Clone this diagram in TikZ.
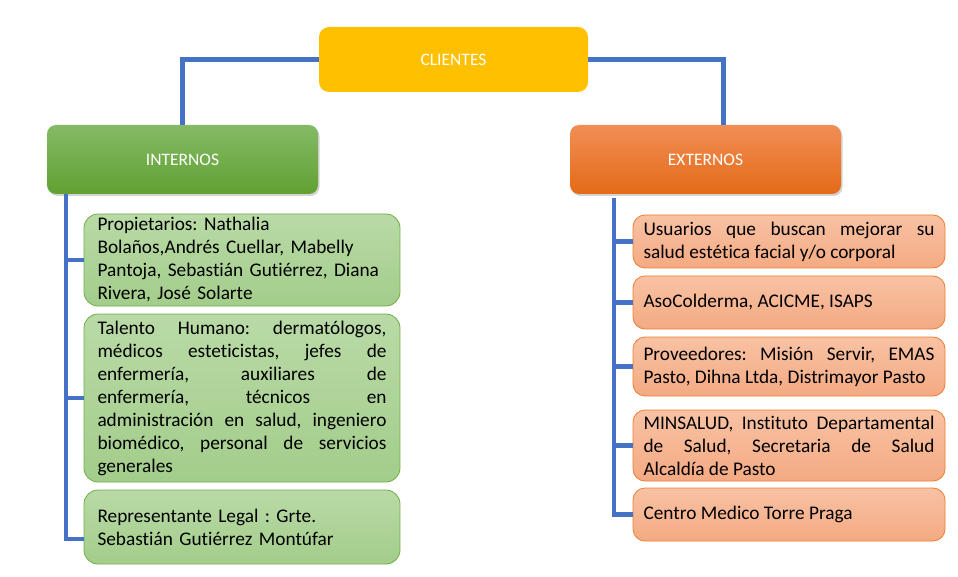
\documentclass[tikz,border=0pt]{standalone}
\usepackage{fontspec}
\setmainfont{Carlito}[Ligatures=NoCommon]
\usepackage{tikz}
\usetikzlibrary{positioning,shadows}
\setlength{\parindent}{0pt}
\frenchspacing
\definecolor{conect}{HTML}{4472C4}
\definecolor{amarillo}{HTML}{FFC000}
\definecolor{verdeA}{HTML}{84BA66}
\definecolor{verdeB}{HTML}{60A132}
\definecolor{naranjaA}{HTML}{F18E55}
\definecolor{naranjaB}{HTML}{E46A17}
\definecolor{verdeC}{HTML}{B9DAA6}
\definecolor{verdeD}{HTML}{A3CD8B}
\definecolor{verdeBorde}{HTML}{70AD47}
\definecolor{naranjaC}{HTML}{F8C2A4}
\definecolor{naranjaD}{HTML}{F4AA82}
\definecolor{naranjaBorde}{HTML}{ED7D31}
\tikzset{
  conector/.style={conect,line width=4.5pt},
  raiz/.style={fill=amarillo,rounded corners=10pt,minimum width=269pt,minimum height=65pt,
    text=white,font=\fontsize{17.5}{20}\selectfont,outer sep=0pt},
  grupo/.style={rounded corners=9pt,minimum width=271pt,minimum height=69pt,
    text=white,font=\fontsize{17.5}{20}\selectfont,outer sep=0pt,
    drop shadow={opacity=0.35,shadow xshift=1.5pt,shadow yshift=-2pt}},
  hojaint/.style={draw=verdeBorde,line width=0.8pt,top color=verdeC,bottom color=verdeD,
    rounded corners=14pt,minimum width=316pt,text width=289pt,align=justify,
    font=\fontsize{19.3}{23}\selectfont,outer sep=0pt},
  hojaext/.style={draw=naranjaBorde,line width=0.8pt,top color=naranjaC,bottom color=naranjaD,
    rounded corners=12pt,minimum width=312pt,text width=291pt,align=justify,
    font=\fontsize{19.3}{23}\selectfont,outer sep=0pt}
}
\tolerance=10000
\hbadness=10000

\begin{document}
\begin{tikzpicture}[x=1pt,y=-1pt]
  \useasboundingbox (0,0) rectangle (958,577);
  \node[raiz] (clientes) at (453.5,59.5) {CLIENTES};
  \node[grupo,top color=verdeA,bottom color=verdeB] (internos) at (182.5,159.5) {INTERNOS};
  \node[grupo,top color=naranjaA,bottom color=naranjaB] (externos) at (705.5,159.5) {EXTERNOS};

  \node[hojaint,minimum height=92pt,anchor=north west,align=left] (prop) at (84,214)
    {Propietarios: Nathalia\\ Bolaños,Andrés Cuellar, Mabelly\\ Pantoja, Sebastián Gutiérrez, Diana\\ Rivera, José Solarte};
  \node[hojaint,minimum height=168pt,below=8pt of prop] (talento)
    {Talento Humano: dermatólogos,\linebreak médicos esteticistas, jefes de\linebreak enfermería, auxiliares de\linebreak enfermería, técnicos en\linebreak administración en salud, ingeniero\linebreak biomédico, personal de servicios\linebreak generales};
  \node[hojaint,minimum height=74pt,below=8pt of talento,align=left] (repre)
    {Representante Legal : Grte.\\ Sebastián Gutiérrez Montúfar};

  \node[hojaext,minimum height=53pt,anchor=north west] (usuarios) at (633,215)
    {Usuarios que buscan mejorar su\linebreak salud estética facial y/o corporal};
  \node[hojaext,minimum height=53pt,below=8pt of usuarios] (aso)
    {AsoColderma, ACICME, ISAPS};
  \node[hojaext,minimum height=59pt,below=8pt of aso] (prov)
    {Proveedores: Misión Servir, EMAS\linebreak Pasto, Dihna Ltda, Distrimayor Pasto};
  \node[hojaext,minimum height=71pt,below=14pt of prov] (minsalud)
    {MINSALUD, Instituto Departamental\linebreak de Salud, Secretaria de Salud\linebreak Alcaldía de Pasto};
  \node[hojaext,minimum height=53pt,below=7pt of minsalud] (centro)
    {Centro Medico Torre Praga};

  \draw[conector] (clientes.west) -| (internos.north);
  \draw[conector] (clientes.east) -| ([xshift=18pt]externos.north);

  \coordinate (ti) at ([xshift=19pt]internos.south west);
  \draw[conector] (ti) |- ([yshift=-12pt]repre.west);
  \draw[conector] (prop.west) -- (prop.west -| ti);
  \draw[conector] (talento.west) -- (talento.west -| ti);

  \coordinate (te) at ([xshift=44pt,yshift=-4pt]externos.south west);
  \draw[conector] (te) |- (centro.west);
  \draw[conector] (usuarios.west) -- (usuarios.west -| te);
  \draw[conector] (aso.west) -- (aso.west -| te);
  \draw[conector] (prov.west) -- (prov.west -| te);
  \draw[conector] (minsalud.west) -- (minsalud.west -| te);
\end{tikzpicture}
\end{document}
